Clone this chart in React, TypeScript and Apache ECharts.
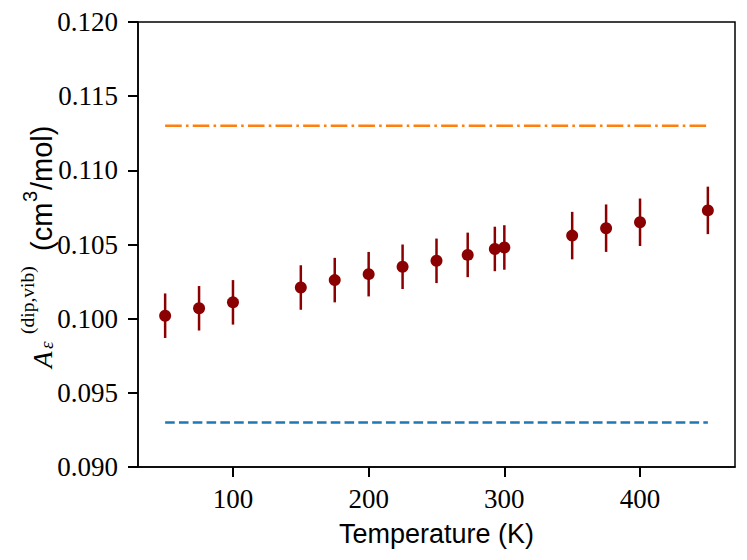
import React, { useEffect, useRef } from "react";
import * as echarts from "echarts";

const temperatures = [50, 75, 100, 150, 175, 200, 225, 250, 273, 293, 300, 350, 375, 400, 450];
const values = [0.1002, 0.1007, 0.1011, 0.1021, 0.1026, 0.103, 0.1035, 0.1039, 0.1043, 0.1047, 0.1048, 0.1056, 0.1061, 0.1065, 0.1073];
const errors = [0.0015, 0.0015, 0.0015, 0.0015, 0.0015, 0.0015, 0.0015, 0.0015, 0.0015, 0.0015, 0.0015, 0.0016, 0.0016, 0.0016, 0.0016];
const refRangeX = [50, 450];
const upperReference = 0.113;
const lowerReference = 0.093;
const xTicks = [100, 200, 300, 400];
const yTicks = [0.09, 0.095, 0.1, 0.105, 0.11, 0.115, 0.12];
const xLimits = [30, 470];
const yLimits = [0.09, 0.12];

const SERIF = "'Liberation Serif', 'DejaVu Serif', serif";
const SANS = "'Liberation Sans', 'DejaVu Sans', sans-serif";
const DARKRED = "#8b0000";

// one piece of the rotated y-axis label: x = advance along the text, base = baseline shift (negative = raised)
function labelPiece(text: string, x: number, base: number, size: number, family: string, italic = false) {
  return {
    type: "text",
    x,
    y: base - 0.34 * size,
    silent: true,
    style: {
      text,
      fontFamily: family,
      fontSize: size,
      fontStyle: italic ? "italic" : "normal",
      fill: "#000",
      align: "left",
      verticalAlign: "middle",
    },
  };
}

function labelPieces() {
  return [
    labelPiece("A", 0, 0, 27, SERIF, true),
    labelPiece("ε", 19, 1, 19, SERIF, true),
    labelPiece("(dip,vib)", 34, -18, 19.5, SERIF),
    labelPiece("(cm", 117, 0, 29, SANS),
    labelPiece("3", 166, -15, 20, SANS),
    labelPiece("/mol)", 178, 0, 29, SANS),
  ];
}

export default function App() {
  const ref = useRef<HTMLDivElement>(null);
  useEffect(() => {
    if (!ref.current) return;
    const chart = echarts.init(ref.current, null, { renderer: "svg" });
    const option: any = {
      animation: false,
      backgroundColor: "#ffffff",
      grid: {
        left: 138,
        top: 22,
        right: 12,
        bottom: 93,
        show: true,
        borderColor: "#000",
        borderWidth: 1.5,
        backgroundColor: "transparent",
        containLabel: false,
        outerBoundsMode: "none",
      },
      xAxis: {
        type: "value",
        min: xLimits[0],
        max: xLimits[1],
        name: "Temperature (K)",
        nameLocation: "middle",
        nameGap: 53,
        nameTextStyle: { fontFamily: SANS, fontSize: 27, color: "#000" },
        axisLine: { show: true, onZero: false, lineStyle: { color: "#000", width: 1.5 } },
        axisTick: { show: true, length: 10, lineStyle: { color: "#000", width: 2 }, customValues: xTicks },
        axisLabel: {
          fontFamily: SERIF,
          fontSize: 27,
          color: "#000",
          margin: 18,
          customValues: xTicks,
          formatter: (v: number) => String(v),
        },
        splitLine: { show: false },
      },
      yAxis: {
        type: "value",
        min: yLimits[0],
        max: yLimits[1],
        axisLine: { show: true, onZero: false, lineStyle: { color: "#000", width: 1.5 } },
        axisTick: { show: true, length: 10, lineStyle: { color: "#000", width: 2 }, customValues: yTicks },
        axisLabel: {
          fontFamily: SERIF,
          fontSize: 27,
          color: "#000",
          margin: 20,
          customValues: yTicks,
          formatter: (v: number) => v.toFixed(3),
        },
        splitLine: { show: false },
      },
      graphic: [
        {
          type: "group",
          x: 52,
          y: 368,
          rotation: Math.PI / 2,
          silent: true,
          children: labelPieces(),
        },
      ],
      series: [
        {
          type: "line",
          data: refRangeX.map((x) => [x, upperReference]),
          symbol: "none",
          lineStyle: { color: "#ff7f0e", width: 2.5, type: [16.6, 4.2, 2.6, 4.2] },
          z: 2,
        },
        {
          type: "line",
          data: refRangeX.map((x) => [x, lowerReference]),
          symbol: "none",
          lineStyle: { color: "#1f77b4", width: 2.5, type: [9.6, 4.2] },
          z: 2,
        },
        {
          type: "custom",
          data: temperatures.map((t, i) => [t, values[i], errors[i]]),
          encode: { x: 0, y: 1 },
          renderItem: (params: any, api: any) => {
            const x = api.value(0);
            const y = api.value(1);
            const e = api.value(2);
            const top = api.coord([x, y + e]);
            const bot = api.coord([x, y - e]);
            return {
              type: "line",
              shape: { x1: top[0], y1: top[1], x2: bot[0], y2: bot[1] },
              style: { stroke: DARKRED, lineWidth: 2.5 },
            };
          },
          z: 3,
        },
        {
          type: "scatter",
          data: temperatures.map((t, i) => [t, values[i]]),
          symbol: "circle",
          symbolSize: 12,
          itemStyle: { color: DARKRED, opacity: 1 },
          z: 4,
        },
      ],
    };
    chart.setOption(option);
    return () => chart.dispose();
  }, []);
  return (
    <div
      ref={ref}
      style={{ position: "fixed", left: 0, top: 0, width: 747, height: 560, background: "#fff" }}
    />
  );
}
